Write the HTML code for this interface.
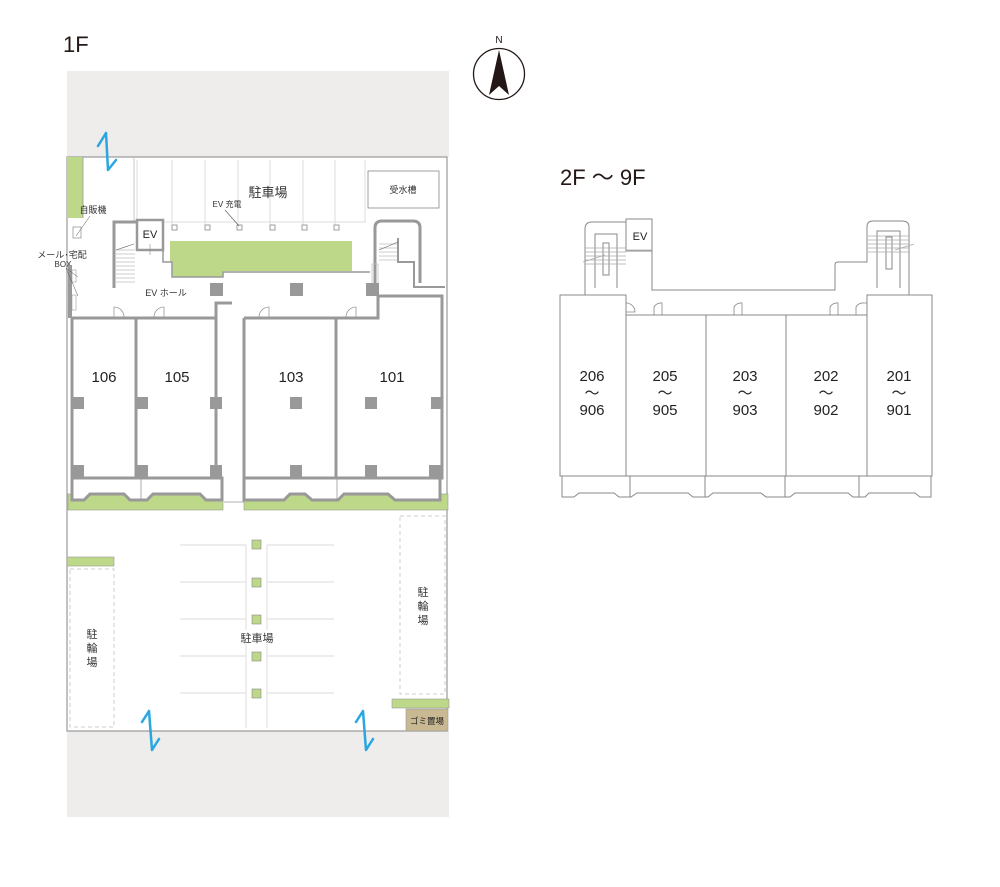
<!DOCTYPE html>
<html><head><meta charset="utf-8"><style>
html,body{margin:0;padding:0;background:#fff;}
svg{display:block;font-family:"Liberation Sans","Noto Sans CJK JP",sans-serif;}
</style></head><body>
<svg width="1000" height="887" viewBox="0 0 1000 887" xmlns="http://www.w3.org/2000/svg">
<text x="63" y="52" font-size="22" fill="#231815">1F</text>
<text x="560" y="185" font-size="22" fill="#231815">2F 〜 9F</text>
<!-- compass -->
<text x="499" y="43" font-size="10" text-anchor="middle" fill="#231815">N</text>
<circle cx="499" cy="74" r="25.5" fill="none" stroke="#231815" stroke-width="1.3"/>
<polygon points="499,50 489,95 499,86 509,95" fill="#231815"/>

<!-- 1F ground -->
<rect x="67" y="71" width="382" height="86" fill="#eeedeb"/>
<rect x="67" y="731" width="382" height="86" fill="#eeedeb"/>
<rect x="67" y="157" width="380" height="574" fill="#fff" stroke="#999" stroke-width="1.2"/>
<!-- left green top -->
<rect x="67" y="157" width="16" height="61" fill="#bed88a"/>
<line x1="83" y1="157" x2="83" y2="218" stroke="#999" stroke-width="0.8"/>
<line x1="134" y1="157" x2="134" y2="222" stroke="#bbb" stroke-width="0.8"/>
<!-- top parking -->
<g stroke="#ddd" stroke-width="1" fill="none">
<line x1="137" y1="160" x2="137" y2="222"/>
<line x1="137" y1="222" x2="366" y2="222"/>
<line x1="172" y1="160" x2="172" y2="225"/>
<line x1="205" y1="160" x2="205" y2="225"/>
<line x1="238" y1="160" x2="238" y2="225"/>
<line x1="270" y1="160" x2="270" y2="225"/>
<line x1="303" y1="160" x2="303" y2="225"/>
<line x1="335" y1="160" x2="335" y2="225"/>
<line x1="365" y1="160" x2="365" y2="222"/>
</g>
<g fill="#fff" stroke="#888" stroke-width="0.8">
<rect x="172" y="225" width="5" height="5"/><rect x="205" y="225" width="5" height="5"/>
<rect x="237" y="225" width="5" height="5"/><rect x="270" y="225" width="5" height="5"/>
<rect x="302" y="225" width="5" height="5"/><rect x="334" y="225" width="5" height="5"/>
</g>
<text x="268" y="197" font-size="13" text-anchor="middle" fill="#333">駐車場</text>
<text x="227" y="207" font-size="8" text-anchor="middle" fill="#333">EV 充電</text>
<line x1="225" y1="210" x2="239" y2="226" stroke="#555" stroke-width="0.6"/>
<rect x="368" y="171" width="71" height="37" fill="#fff" stroke="#888" stroke-width="0.8"/>
<text x="403" y="193" font-size="9" text-anchor="middle" fill="#333">受水槽</text>
<text x="93" y="213" font-size="9" text-anchor="middle" fill="#333">自販機</text>
<rect x="73" y="227" width="8" height="11" fill="#fff" stroke="#888" stroke-width="0.7"/>
<line x1="76" y1="236" x2="90" y2="216" stroke="#555" stroke-width="0.5"/>
<text x="62" y="258" font-size="9" text-anchor="middle" fill="#333">メール･宅配</text>
<text x="63" y="267" font-size="8" text-anchor="middle" fill="#333">BOX</text>
<path d="M70,265 L70,318" stroke="#999" stroke-width="4" fill="none"/>
<rect x="72" y="270" width="4" height="12" fill="#fff" stroke="#888" stroke-width="0.5"/>
<rect x="72" y="295" width="4" height="15" fill="#fff" stroke="#888" stroke-width="0.5"/>
<line x1="66" y1="268" x2="78" y2="296" stroke="#555" stroke-width="0.5"/>
<line x1="66" y1="268" x2="78" y2="277" stroke="#555" stroke-width="0.5"/>
<!-- stair left -->
<path d="M114,288 L114,222 L137,222" stroke="#999" stroke-width="3" fill="none"/>
<g stroke="#bbb" stroke-width="0.8">
<line x1="116" y1="250" x2="135" y2="250"/><line x1="116" y1="254" x2="135" y2="254"/><line x1="116" y1="258" x2="135" y2="258"/><line x1="116" y1="262" x2="135" y2="262"/><line x1="116" y1="266" x2="135" y2="266"/><line x1="116" y1="270" x2="135" y2="270"/><line x1="116" y1="274" x2="135" y2="274"/><line x1="116" y1="278" x2="135" y2="278"/><line x1="116" y1="282" x2="135" y2="282"/>
</g>
<line x1="116" y1="250" x2="134" y2="244" stroke="#666" stroke-width="0.6"/>
<!-- EV -->
<rect x="137" y="220" width="26" height="30" fill="#fff" stroke="#999" stroke-width="2.5"/>
<text x="150" y="238" font-size="11" text-anchor="middle" fill="#222">EV</text>
<line x1="150" y1="244" x2="150" y2="255" stroke="#888" stroke-width="0.6"/>
<!-- green courtyard -->
<path d="M170,241 L352,241 L352,271 L223,271 L223,277 L172,277 L172,262 L170,262 Z" fill="#bed88a"/>
<path d="M163,248 L163,262 L172,262 L172,277 L223,277 L223,272 L370,272" stroke="#999" stroke-width="1.5" fill="none"/>
<!-- right stair -->
<path d="M375,288 L375,228 Q375,221 382,221 L413,221 Q420,221 420,228 L420,283" stroke="#999" stroke-width="3" fill="none"/>
<path d="M398,238 L398,262 L414,262 L414,287 L445,287" stroke="#999" stroke-width="2" fill="none"/>
<g stroke="#bbb" stroke-width="0.8">
<line x1="379" y1="244" x2="397" y2="244"/><line x1="379" y1="248" x2="397" y2="248"/><line x1="379" y1="252" x2="397" y2="252"/><line x1="379" y1="256" x2="397" y2="256"/><line x1="379" y1="260" x2="397" y2="260"/>
</g>
<line x1="379" y1="250" x2="398" y2="242" stroke="#666" stroke-width="0.6"/>
<rect x="372" y="264" width="6" height="20" fill="none" stroke="#bbb" stroke-width="0.7"/>
<text x="166" y="296" font-size="9" text-anchor="middle" fill="#333">EV ホール</text>
<!-- pillars -->
<g fill="#999">
<rect x="210" y="283" width="13" height="13"/><rect x="290" y="283" width="13" height="13"/><rect x="366" y="283" width="13" height="13"/>
</g>
<!-- green strips (behind balconies) -->
<rect x="68" y="494" width="155" height="16" fill="#bed88a" stroke="#999" stroke-width="0.6"/>
<rect x="244" y="494" width="204" height="16" fill="#bed88a" stroke="#999" stroke-width="0.6"/>
<!-- units -->
<g stroke="#999" stroke-width="3">
<path d="M72,478 L72,500 L84,500 L90,494 L124,494 L130,500 L147,500 L153,494 L200,494 L206,500 L222,500 L222,478 Z" fill="#fff"/>
<path d="M244,478 L244,500 L284,500 L290,494 L305,494 L312,500 L338,500 L344,494 L388,494 L395,500 L440,500 L440,478 Z" fill="#fff"/>
</g>
<g fill="none" stroke="#999" stroke-width="3">
<path d="M72,318 L72,478 L216,478 L216,318 Z"/>
<line x1="136" y1="318" x2="136" y2="478"/>
<path d="M244,318 L244,478 L442,478 L442,296 L378,296 L378,318 L244,318"/>
<line x1="336" y1="318" x2="336" y2="478"/>
<path d="M216,318 L216,303 L232,303"/>
</g>
<g stroke="#999" stroke-width="0.8">
<line x1="141" y1="478" x2="141" y2="500"/><line x1="337" y1="478" x2="337" y2="500"/>
<line x1="224" y1="502" x2="244" y2="502"/>
</g>
<g fill="#999">
<rect x="72" y="397" width="12" height="12"/><rect x="136" y="397" width="12" height="12"/><rect x="210" y="397" width="12" height="12"/>
<rect x="72" y="465" width="12" height="13"/><rect x="136" y="465" width="12" height="13"/><rect x="210" y="465" width="12" height="13"/>
<rect x="290" y="397" width="12" height="12"/><rect x="365" y="397" width="12" height="12"/><rect x="431" y="397" width="12" height="12"/>
<rect x="290" y="465" width="12" height="13"/><rect x="365" y="465" width="12" height="13"/><rect x="429" y="465" width="13" height="13"/>
</g>
<g fill="none" stroke="#999" stroke-width="0.8">
<path d="M114,318 L114,307 A10,10 0 0 1 124,317"/>
<path d="M164,318 L164,307 A10,10 0 0 0 154,317"/>
<path d="M269,318 L269,307 A10,10 0 0 0 259,317"/>
<path d="M356,318 L356,307 A10,10 0 0 0 346,317"/>
</g>
<g font-size="15" fill="#222" text-anchor="middle">
<text x="104" y="382">106</text><text x="177" y="382">105</text><text x="291" y="382">103</text><text x="392" y="382">101</text>
</g>
<!-- lower parking -->
<rect x="67" y="557" width="47" height="9" fill="#bed88a" stroke="#999" stroke-width="0.6"/>
<rect x="70" y="569" width="44" height="158" fill="none" stroke="#ccc" stroke-width="1" stroke-dasharray="4,3"/>
<rect x="400" y="516" width="45" height="178" fill="none" stroke="#ccc" stroke-width="1" stroke-dasharray="4,3"/>
<g font-size="11" fill="#333" text-anchor="middle">
<text x="92" y="638">駐</text><text x="92" y="652">輪</text><text x="92" y="666">場</text>
<text x="423" y="596">駐</text><text x="423" y="610">輪</text><text x="423" y="624">場</text>
</g>
<g stroke="#e2e2e2" stroke-width="1.2" fill="none">
<line x1="180" y1="545" x2="246" y2="545"/><line x1="180" y1="582" x2="246" y2="582"/><line x1="180" y1="619" x2="246" y2="619"/><line x1="180" y1="656" x2="246" y2="656"/><line x1="180" y1="693" x2="246" y2="693"/>
<line x1="267" y1="545" x2="334" y2="545"/><line x1="267" y1="582" x2="334" y2="582"/><line x1="267" y1="619" x2="334" y2="619"/><line x1="267" y1="656" x2="334" y2="656"/><line x1="267" y1="693" x2="334" y2="693"/>
<line x1="246" y1="545" x2="246" y2="728"/><line x1="267" y1="545" x2="267" y2="728"/>
</g>
<g fill="#bed88a" stroke="#888" stroke-width="0.6">
<rect x="252" y="540" width="9" height="9"/><rect x="252" y="578" width="9" height="9"/><rect x="252" y="615" width="9" height="9"/><rect x="252" y="652" width="9" height="9"/><rect x="252" y="689" width="9" height="9"/>
</g>
<rect x="232" y="630" width="50" height="14" fill="#fff"/>
<text x="257" y="642" font-size="11" text-anchor="middle" fill="#333">駐車場</text>
<rect x="392" y="699" width="57" height="9" fill="#bed88a" stroke="#999" stroke-width="0.6"/>
<rect x="406" y="709" width="42" height="22" fill="#c9b993" stroke="#999" stroke-width="0.6"/>
<text x="427" y="724" font-size="8.5" text-anchor="middle" fill="#222">ゴミ置場</text>
<!-- arrows -->
<g stroke="#2aa6e0" stroke-width="2.5" fill="none" stroke-linecap="round" stroke-linejoin="round">
<polyline points="98,146 106,133 108,170 116,160"/>
<polyline points="142,722 149,711 152,750 159,739"/>
<polyline points="356,722 363,711 366,750 373,739"/>
</g>

<!-- 2F-9F -->
<g fill="none" stroke="#888" stroke-width="1">
<path d="M585,295 L585,229 Q585,222 592,222 L626,222"/>
<rect x="626" y="219" width="26" height="32"/>
<path d="M652,251 L652,290 L835,290 L835,265 Q835,262 838,262 L867,262 L867,227 Q867,221 873,221 L902,221 Q909,221 909,227 L909,295"/>
<rect x="560" y="295" width="66" height="181"/>
<rect x="626" y="315" width="80" height="161"/>
<rect x="706" y="315" width="80" height="161"/>
<rect x="786" y="315" width="81" height="161"/>
<rect x="867" y="295" width="65" height="181"/>
<path d="M562,476 L562,497 L574,497 L579,493 L614,493 L619,497 L631,497 L637,493 L688,493 L693,497 L708,497 L713,493 L761,493 L766,497 L790,497 L795,493 L848,493 L853,497 L865,497 L869,493 L915,493 L920,497 L931,497 L931,476"/>
<line x1="630" y1="476" x2="630" y2="497"/><line x1="705" y1="476" x2="705" y2="497"/><line x1="785" y1="476" x2="785" y2="497"/><line x1="859" y1="476" x2="859" y2="497"/>
<path d="M595,288 L595,234 L617,234 L617,288"/><rect x="603" y="243" width="6" height="32"/>
<path d="M877,288 L877,231 L900,231 L900,288"/><rect x="886" y="237" width="6" height="32"/>
</g>
<g stroke="#aaa" stroke-width="0.7">
<line x1="585" y1="248" x2="626" y2="248"/><line x1="585" y1="252" x2="626" y2="252"/><line x1="585" y1="256" x2="626" y2="256"/><line x1="585" y1="260" x2="626" y2="260"/><line x1="585" y1="264" x2="626" y2="264"/>
<line x1="868" y1="236" x2="909" y2="236"/><line x1="868" y1="240" x2="909" y2="240"/><line x1="868" y1="244" x2="909" y2="244"/><line x1="868" y1="248" x2="909" y2="248"/><line x1="868" y1="252" x2="909" y2="252"/>
<line x1="583" y1="262" x2="605" y2="255"/><line x1="895" y1="250" x2="914" y2="244"/>
<line x1="626" y1="250" x2="652" y2="250"/>
</g>
<text x="640" y="240" font-size="11" text-anchor="middle" fill="#222">EV</text>
<g fill="none" stroke="#888" stroke-width="0.8">
<path d="M626,303 A9,9 0 0 1 635,312 L626,312"/>
<path d="M654,315 L654,307 A8,8 0 0 1 662,303 L662,315"/>
<path d="M734,315 L734,307 A8,8 0 0 1 742,303 L742,315"/>
<path d="M830,315 L830,307 A8,8 0 0 1 838,303 L838,315"/>
<path d="M856,315 L856,307 A8,8 0 0 1 864,303 L867,303"/>
</g>
<g font-size="15" fill="#222" text-anchor="middle">
<text x="592" y="381">206</text><text x="592" y="398">〜</text><text x="592" y="415">906</text>
<text x="665" y="381">205</text><text x="665" y="398">〜</text><text x="665" y="415">905</text>
<text x="745" y="381">203</text><text x="745" y="398">〜</text><text x="745" y="415">903</text>
<text x="826" y="381">202</text><text x="826" y="398">〜</text><text x="826" y="415">902</text>
<text x="899" y="381">201</text><text x="899" y="398">〜</text><text x="899" y="415">901</text>
</g>
</svg>
</body></html>
